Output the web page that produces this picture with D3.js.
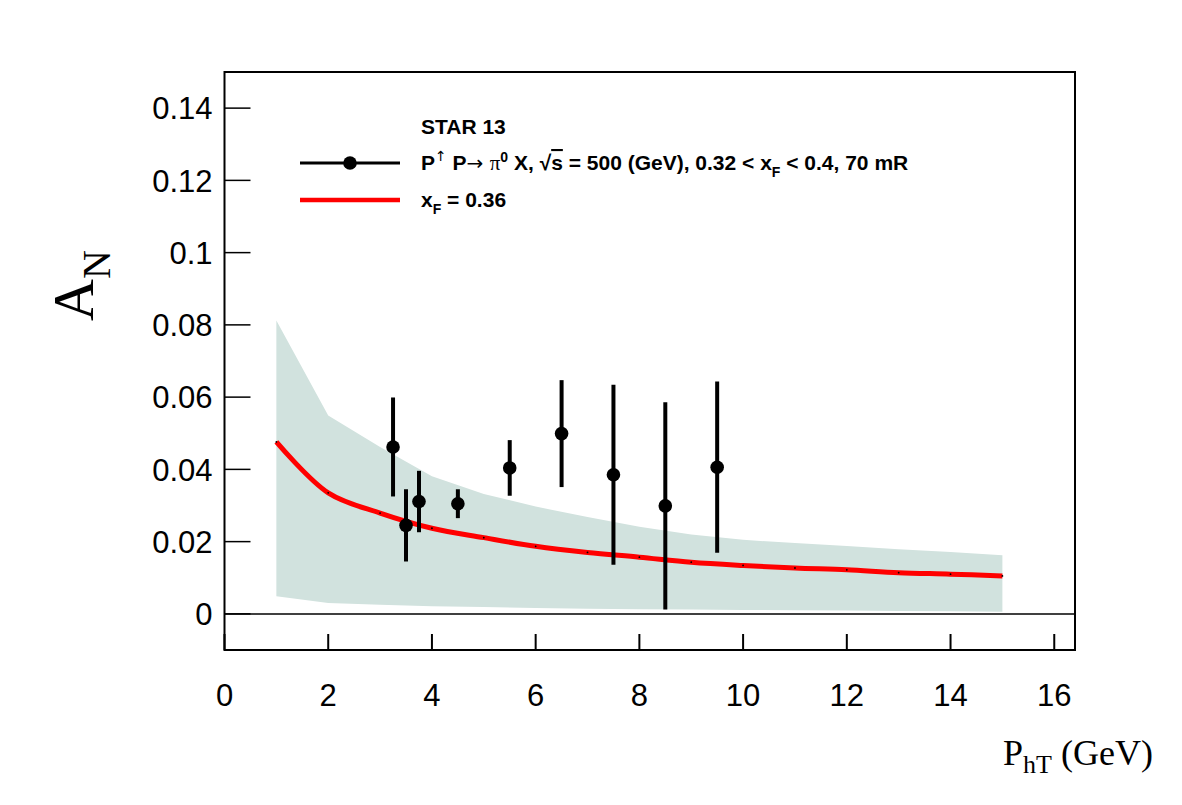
<!DOCTYPE html>
<html lang="en">
<head>
<meta charset="UTF-8">
<script src="https://d3js.org/d3.v7.min.js"></script>
<style>
  body { margin: 0; background: #fff; }
  .tick-label { font: 31px "Liberation Sans", Arial, sans-serif; fill: #000; }
  .legend { font: bold 21px "Liberation Sans", Arial, sans-serif; fill: #000; }
  .title { font-family: "Liberation Serif", "Times New Roman", serif; fill: #000; }
</style>
</head>
<body>
<script>
// axis ticks
var xTicks = [0, 2, 4, 6, 8, 10, 12, 14, 16];
var yTicks = [0, 0.02, 0.04, 0.06, 0.08, 0.1, 0.12, 0.14];

// STAR 13 data points
var dataPt  = [3.25, 3.5, 3.75, 4.5, 5.5, 6.5, 7.5, 8.5, 9.5];
var dataAN  = [0.0462, 0.0245, 0.0311, 0.0305, 0.0404, 0.0499, 0.0385, 0.0299, 0.0406];
var dataErr = [0.0137, 0.0100, 0.0085, 0.0040, 0.0077, 0.0148, 0.0249, 0.0287, 0.0237];

// theory curve x_F = 0.36 and its uncertainty band
var theoryPt = [1, 2, 3, 4, 5, 6, 7, 8, 9, 10, 11, 12, 13, 14, 15];
var theoryAN = [0.0476, 0.0335, 0.0279, 0.0237, 0.0211, 0.0187, 0.0170, 0.0157, 0.0143, 0.0134, 0.0127, 0.0122, 0.0114, 0.0110, 0.0105];
var bandHi   = [0.0812, 0.0549, 0.0462, 0.0381, 0.0332, 0.0297, 0.0268, 0.0241, 0.0220, 0.0205, 0.0196, 0.0188, 0.0179, 0.0171, 0.0162];
var bandLo   = [0.0049, 0.0030, 0.0025, 0.0021, 0.0019, 0.0016, 0.0014, 0.0013, 0.0012, 0.0011, 0.0010, 0.0009, 0.0008, 0.0007, 0.0006];

// frame of the pad
var padLeft = 224.5, padRight = 1075, padTop = 72, padBottom = 650;

var x = d3.scaleLinear().domain([0, 16.4]).range([padLeft, padRight]);
var y = d3.scaleLinear().domain([-0.01, 0.15]).range([padBottom, padTop]);

var svg = d3.select("body").append("svg")
  .attr("width", 1182)
  .attr("height", 805)
  .style("display", "block");

svg.append("rect").attr("width", 1182).attr("height", 805).attr("fill", "#fff");

// uncertainty band
var band = theoryPt.map(function(d, i) { return { x: d, lo: bandLo[i], hi: bandHi[i] }; });
svg.append("path")
  .datum(band)
  .attr("fill", "#d1e2de")
  .attr("d", d3.area()
    .x(function(d) { return x(d.x); })
    .y0(function(d) { return y(d.lo); })
    .y1(function(d) { return y(d.hi); }));

// zero line
svg.append("line")
  .attr("x1", padLeft).attr("x2", padRight)
  .attr("y1", y(0)).attr("y2", y(0))
  .attr("stroke", "#000").attr("stroke-width", 1.5);

// theory curve
var curve = theoryPt.map(function(d, i) { return { x: d, y: theoryAN[i] }; });
svg.append("path")
  .datum(curve)
  .attr("fill", "none")
  .attr("stroke", "#ff0000")
  .attr("stroke-width", 5)
  .attr("d", d3.line()
    .x(function(d) { return x(d.x); })
    .y(function(d) { return y(d.y); })
    .curve(d3.curveCatmullRom));

svg.append("g").selectAll("circle")
  .data(curve)
  .enter().append("circle")
  .attr("cx", function(d) { return x(d.x); })
  .attr("cy", function(d) { return y(d.y); })
  .attr("r", 0.9)
  .attr("fill", "#000");

// data points with error bars
var pts = dataPt.map(function(d, i) { return { x: d, y: dataAN[i], e: dataErr[i] }; });
var gPts = svg.append("g");
gPts.selectAll("line")
  .data(pts)
  .enter().append("line")
  .attr("x1", function(d) { return x(d.x); })
  .attr("x2", function(d) { return x(d.x); })
  .attr("y1", function(d) { return y(d.y - d.e); })
  .attr("y2", function(d) { return y(d.y + d.e); })
  .attr("stroke", "#000")
  .attr("stroke-width", 4);
gPts.selectAll("circle")
  .data(pts)
  .enter().append("circle")
  .attr("cx", function(d) { return x(d.x); })
  .attr("cy", function(d) { return y(d.y); })
  .attr("r", 6.8)
  .attr("fill", "#000");

// frame
svg.append("rect")
  .attr("x", padLeft).attr("y", padTop)
  .attr("width", padRight - padLeft).attr("height", padBottom - padTop)
  .attr("fill", "none").attr("stroke", "#000").attr("stroke-width", 2);

// y ticks (inside, from left edge)
svg.append("g").selectAll("line")
  .data(yTicks)
  .enter().append("line")
  .attr("x1", padLeft).attr("x2", padLeft + 26)
  .attr("y1", function(d) { return y(d); })
  .attr("y2", function(d) { return y(d); })
  .attr("stroke", "#000").attr("stroke-width", 1.5);

svg.append("g").selectAll("text")
  .data(yTicks)
  .enter().append("text")
  .attr("class", "tick-label")
  .attr("x", padLeft - 12)
  .attr("y", function(d) { return y(d); })
  .attr("dy", "0.36em")
  .attr("text-anchor", "end")
  .text(function(d) { return d3.format("")(d); });

// x ticks (inside, from bottom edge)
svg.append("g").selectAll("line")
  .data(xTicks)
  .enter().append("line")
  .attr("x1", function(d) { return x(d); })
  .attr("x2", function(d) { return x(d); })
  .attr("y1", padBottom).attr("y2", padBottom - 16)
  .attr("stroke", "#000").attr("stroke-width", 2);

svg.append("g").selectAll("text")
  .data(xTicks)
  .enter().append("text")
  .attr("class", "tick-label")
  .attr("x", function(d) { return x(d); })
  .attr("y", 706)
  .attr("text-anchor", "middle")
  .text(function(d) { return d; });

// axis titles
var xt = svg.append("text")
  .attr("class", "title")
  .attr("x", 1003).attr("y", 765)
  .style("font-size", "36px");
xt.append("tspan").text("P");
xt.append("tspan").attr("dy", 8).style("font-size", "26px").text("hT");
xt.append("tspan").attr("dy", -8).text(" (GeV)");

var yt = svg.append("text")
  .attr("class", "title")
  .attr("transform", "translate(93,321) rotate(-90)")
  .style("font-size", "58px");
yt.append("tspan").text("A");
yt.append("tspan").attr("dy", 17).style("font-size", "40px").text("N");

// legend
var lg = svg.append("g");
lg.append("text").attr("class", "legend").attr("x", 421).attr("y", 134).text("STAR 13");

lg.append("line").attr("x1", 300).attr("x2", 400).attr("y1", 163).attr("y2", 163)
  .attr("stroke", "#000").attr("stroke-width", 3);
lg.append("circle").attr("cx", 350).attr("cy", 163).attr("r", 6.8).attr("fill", "#000");

var l2 = lg.append("text").attr("class", "legend").attr("x", 421).attr("y", 170);
l2.append("tspan").text("P");
l2.append("tspan").attr("dy", -9).style("font-size", "14px").style("font-weight", "normal")
  .style("font-family", "DejaVu Sans").text("\u2191");
l2.append("tspan").attr("dy", 9).text(" P");
l2.append("tspan").style("font-weight", "normal").style("font-family", "DejaVu Sans")
  .style("font-size", "20px").text("\u2192 ");
l2.append("tspan").style("font-weight", "normal").style("font-family", "Liberation Serif").text("\u03c0");
l2.append("tspan").attr("dy", -8).style("font-size", "14px").text("0");
l2.append("tspan").attr("dy", 8).text(" X, \u221a");
l2.append("tspan").style("text-decoration", "overline").text("s");
l2.append("tspan").text(" = 500 (GeV), 0.32 < x");
l2.append("tspan").attr("dy", 7).style("font-size", "14px").text("F");
l2.append("tspan").attr("dy", -7).text(" < 0.4, 70 mR");

lg.append("line").attr("x1", 300).attr("x2", 400).attr("y1", 200).attr("y2", 200)
  .attr("stroke", "#ff0000").attr("stroke-width", 4.5);

var l3 = lg.append("text").attr("class", "legend").attr("x", 421).attr("y", 207);
l3.append("tspan").text("x");
l3.append("tspan").attr("dy", 7).style("font-size", "14px").text("F");
l3.append("tspan").attr("dy", -7).text(" = 0.36");
</script>
</body>
</html>
